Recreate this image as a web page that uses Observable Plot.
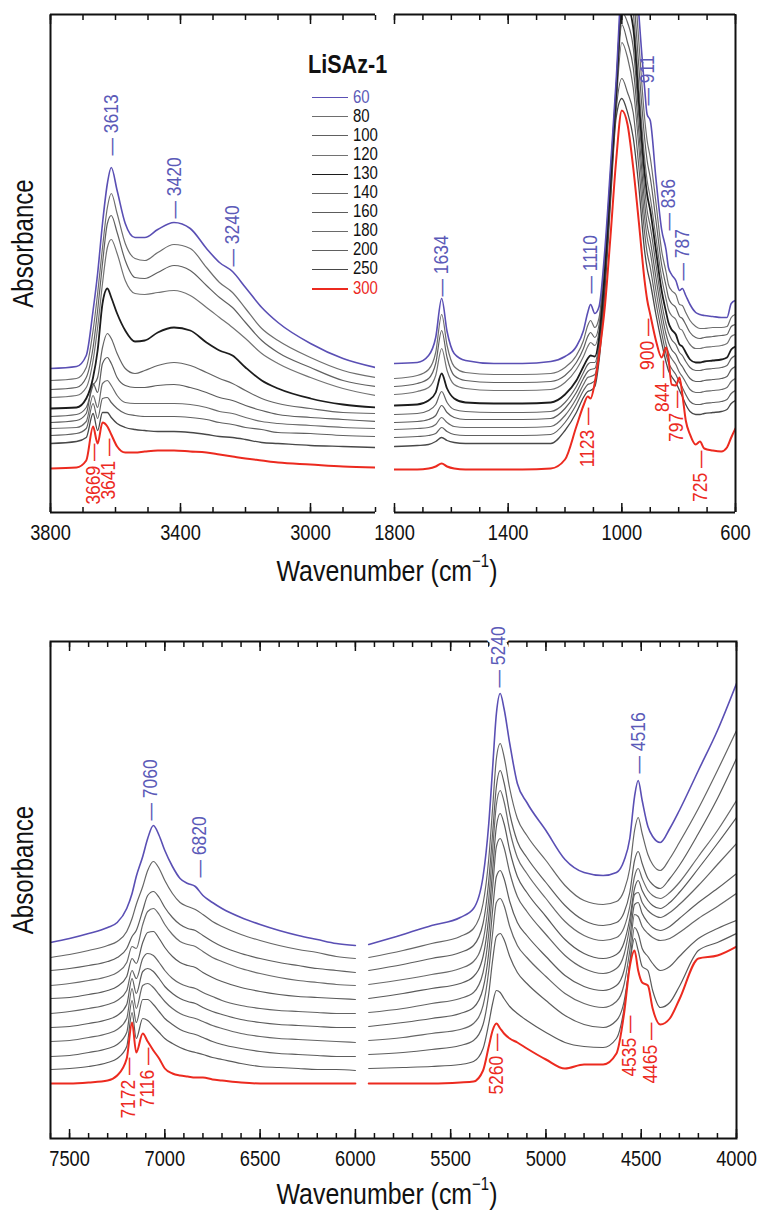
<!DOCTYPE html>
<html>
<head>
<meta charset="utf-8">
<script src="https://cdn.jsdelivr.net/npm/d3@7"></script>
<script src="https://cdn.jsdelivr.net/npm/@observablehq/plot@0.6"></script>
<style>
  html, body { margin: 0; padding: 0; background: #fff; }
  #wrap { position: relative; width: 762px; height: 1213px; overflow: hidden;
          font-family: "Liberation Sans", Arial, sans-serif; color: #111; }
  .pl { position: absolute; }
  .xt { position: absolute; left: 187px; width: 400px; text-align: center; font-size: 30px; line-height: 28px;
        white-space: nowrap; transform: scaleX(0.83); transform-origin: 50% 50%; }
  .xt sup { font-size: 0.6em; vertical-align: baseline; position: relative; top: -0.8em; }
  .lg-title { position: absolute; left: 308px; top: 52px; font-size: 26px; line-height: 25px; font-weight: bold;
              transform: scaleX(0.83); transform-origin: 0 50%; white-space: nowrap; }
  .lg-row { position: absolute; left: 312px; height: 19px; line-height: 19px; font-size: 18px; white-space: nowrap; }
  .lg-row .sw { display: inline-block; width: 36px; height: 0; vertical-align: middle; margin-right: 5px; }
  .lg-row .lb { display: inline-block; transform: scaleX(0.83); transform-origin: 0 50%; }
</style>
</head>
<body>
<div id="wrap"></div>
<script>
// ---------------- data ----------------
const temps = [60, 80, 100, 120, 130, 140, 160, 180, 200, 250, 300];

// Mid-IR, left segment (cm-1)
const wnTopLeft = [3800, 3720, 3690, 3669, 3655, 3640, 3625, 3613, 3595, 3570, 3540, 3510, 3470, 3420, 3370, 3320, 3280, 3240, 3200, 3150, 3100, 3000, 2900, 2800];
const absTopLeft = [
  [144, 146, 157, 202, 239, 289, 329, 345, 322, 289, 275, 275, 283, 290, 284, 264, 250, 241, 225, 205, 190, 169, 154, 145],
  [132, 134, 145, 182, 219, 265, 305, 319, 299, 269, 254, 252, 260, 268, 264, 245, 230, 220, 204, 184, 172, 155, 142, 135],
  [123, 125, 135, 165, 202, 249, 289, 297, 280, 252, 235, 234, 240, 247, 242, 227, 215, 205, 190, 172, 160, 145, 132, 126],
  [115, 117, 125, 152, 185, 229, 265, 273, 259, 232, 219, 218, 220, 222, 217, 205, 195, 185, 174, 159, 149, 135, 124, 117],
  [104, 105, 114, 135, 162, 209, 224, 215, 199, 182, 171, 172, 180, 185, 182, 170, 162, 157, 145, 132, 124, 114, 108, 105],
  [96, 98, 105, 127, 135, 165, 179, 174, 159, 144, 139, 142, 147, 150, 147, 140, 134, 129, 122, 114, 109, 104, 100, 99],
  [90, 92, 99, 129, 120, 149, 155, 149, 135, 127, 125, 125, 127, 128, 125, 120, 115, 112, 107, 102, 98, 95, 93, 91],
  [84, 85, 91, 117, 105, 129, 132, 127, 117, 110, 109, 109, 109, 109, 108, 105, 101, 99, 95, 91, 89, 87, 85, 84],
  [77, 79, 84, 109, 94, 114, 115, 110, 104, 99, 97, 96, 96, 96, 95, 93, 90, 88, 85, 83, 80, 79, 77, 76],
  [69, 71, 75, 99, 82, 100, 100, 95, 89, 85, 83, 82, 81, 81, 80, 78, 76, 75, 73, 70, 69, 67, 66, 65],
  [44, 45, 52, 86, 69, 90, 86, 78, 66, 60, 60, 61, 62, 62, 61, 60, 58, 56, 54, 52, 50, 48, 46, 45]
];

// Mid-IR, right segment (cm-1)
const wnTopRight = [1800, 1720, 1680, 1655, 1634, 1615, 1590, 1550, 1450, 1350, 1250, 1200, 1160, 1135, 1120, 1110, 1095, 1080, 1060, 1040, 1020, 1000, 980, 960, 940, 920, 911, 900, 880, 860, 844, 836, 825, 810, 797, 787, 775, 760, 740, 725, 710, 680, 650, 630, 615, 600];
const absTopRight = [
  [149, 150, 157, 175, 214, 181, 159, 152, 149, 149, 151, 156, 166, 182, 200, 208, 199, 206, 262, 345, 432, 540, 600, 585, 498, 425, 398, 392, 334, 283, 262, 245, 238, 232, 222, 224, 217, 208, 200, 198, 197, 196, 195, 195, 209, 212],
  [134, 137, 143, 160, 198, 167, 146, 140, 138, 138, 139, 145, 157, 172, 187, 192, 185, 195, 255, 340, 428, 525, 570, 545, 470, 395, 372, 355, 310, 262, 240, 228, 222, 218, 208, 207, 200, 192, 186, 184, 184, 185, 185, 186, 195, 198],
  [126, 129, 134, 149, 182, 155, 137, 132, 130, 130, 131, 137, 150, 164, 176, 180, 175, 188, 250, 336, 424, 515, 545, 520, 445, 375, 352, 335, 292, 248, 226, 215, 209, 205, 196, 194, 188, 180, 175, 174, 175, 176, 177, 178, 186, 188],
  [118, 121, 125, 137, 164, 142, 128, 124, 122, 122, 123, 130, 143, 156, 166, 170, 167, 182, 246, 333, 421, 510, 525, 500, 425, 355, 332, 315, 275, 235, 213, 203, 197, 193, 184, 182, 175, 168, 164, 164, 165, 166, 167, 169, 176, 178],
  [107, 108, 112, 120, 139, 124, 114, 110, 109, 109, 110, 118, 132, 146, 154, 157, 156, 175, 240, 330, 418, 505, 505, 485, 410, 340, 318, 302, 262, 222, 200, 190, 183, 178, 168, 166, 160, 153, 150, 150, 151, 152, 153, 155, 163, 166],
  [98, 99, 102, 108, 121, 110, 103, 101, 100, 100, 101, 110, 126, 140, 148, 150, 150, 170, 236, 327, 415, 500, 490, 465, 395, 325, 302, 286, 248, 210, 188, 180, 173, 168, 160, 157, 151, 145, 142, 142, 143, 144, 145, 147, 154, 157],
  [90, 91, 93, 97, 107, 100, 95, 93, 93, 93, 94, 104, 120, 134, 141, 143, 144, 166, 232, 324, 412, 488, 470, 445, 380, 310, 288, 272, 235, 200, 178, 170, 163, 158, 150, 146, 140, 134, 131, 131, 132, 133, 134, 136, 143, 146],
  [83, 84, 85, 88, 95, 90, 86, 85, 85, 85, 86, 97, 114, 128, 135, 136, 138, 161, 228, 320, 408, 470, 455, 425, 365, 295, 275, 260, 222, 190, 168, 160, 154, 148, 140, 136, 130, 123, 120, 120, 121, 122, 123, 125, 131, 134],
  [75, 76, 77, 79, 85, 81, 78, 77, 77, 77, 78, 90, 108, 122, 128, 129, 132, 156, 224, 316, 402, 434, 420, 400, 345, 280, 260, 245, 210, 180, 158, 150, 144, 138, 130, 125, 118, 111, 108, 108, 109, 110, 111, 113, 119, 122],
  [66, 67, 68, 71, 75, 72, 70, 69, 69, 69, 69, 82, 100, 115, 121, 122, 126, 152, 219, 310, 395, 414, 400, 375, 325, 262, 244, 230, 198, 170, 150, 142, 136, 130, 122, 116, 108, 101, 98, 98, 99, 100, 101, 103, 109, 112],
  [43, 43, 44, 46, 49, 46, 44, 43, 43, 43, 44, 53, 86, 107, 116, 114, 130, 158, 205, 276, 352, 402, 388, 345, 290, 232, 213, 198, 172, 155, 165, 155, 128, 127, 135, 118, 92, 78, 68, 71, 64, 62, 61, 65, 75, 84]
];

// Near-IR, part before the gap (cm-1)
const wnNirLeft = [7600, 7500, 7400, 7300, 7250, 7200, 7172, 7150, 7116, 7090, 7060, 7030, 7000, 6960, 6920, 6880, 6840, 6800, 6750, 6700, 6600, 6500, 6400, 6300, 6200, 6100, 6000];
const absNirLeft = [
  [196, 200, 205, 211, 216, 230, 245, 262, 282, 300, 313, 303, 288, 272, 260, 255, 252, 243, 236, 230, 221, 214, 208, 203, 199, 195, 193],
  [181, 184, 188, 193, 197, 207, 220, 234, 252, 268, 277, 270, 258, 245, 236, 232, 229, 224, 217, 212, 204, 198, 193, 189, 186, 182, 180],
  [168, 170, 173, 177, 181, 190, 202, 208, 228, 243, 247, 241, 231, 221, 214, 210, 208, 203, 197, 192, 185, 180, 176, 173, 170, 168, 166],
  [153, 155, 158, 162, 166, 176, 192, 190, 214, 227, 230, 224, 214, 204, 197, 194, 192, 187, 181, 177, 170, 165, 161, 158, 156, 154, 153],
  [140, 141, 144, 148, 152, 162, 180, 175, 196, 206, 207, 200, 191, 182, 176, 173, 171, 166, 161, 157, 151, 147, 144, 142, 141, 140, 139],
  [125, 127, 130, 134, 138, 148, 168, 160, 180, 185, 183, 176, 168, 160, 155, 152, 150, 146, 142, 138, 133, 130, 128, 127, 126, 125, 125],
  [111, 112, 115, 119, 123, 134, 160, 145, 167, 170, 167, 160, 152, 145, 140, 137, 135, 131, 127, 124, 119, 116, 114, 113, 112, 111, 111],
  [97, 98, 101, 105, 109, 120, 150, 130, 153, 155, 151, 144, 137, 130, 125, 122, 120, 117, 113, 110, 105, 102, 100, 99, 98, 97, 96],
  [82, 83, 86, 90, 94, 106, 138, 116, 139, 139, 134, 127, 120, 114, 109, 106, 104, 101, 97, 94, 90, 87, 85, 84, 83, 82, 82],
  [69, 70, 72, 76, 80, 92, 126, 100, 120, 118, 112, 106, 100, 95, 91, 88, 86, 84, 81, 79, 75, 72, 71, 70, 69, 69, 68],
  [55, 55, 56, 58, 63, 80, 116, 86, 105, 97, 88, 80, 70, 65, 63, 62, 61, 61, 59, 58, 56, 55, 55, 55, 55, 55, 55]
];

// Near-IR, part after the gap (cm-1)
const wnNirRight = [5930, 5750, 5600, 5450, 5380, 5330, 5300, 5280, 5260, 5240, 5220, 5190, 5150, 5100, 5000, 4900, 4800, 4700, 4630, 4590, 4560, 4535, 4516, 4495, 4465, 4440, 4400, 4350, 4300, 4200, 4100, 4000];
const absNirRight = [
  [194, 204, 213, 221, 230, 262, 315, 370, 425, 445, 430, 395, 355, 336, 308, 279, 266, 263, 266, 278, 300, 342, 358, 338, 312, 302, 296, 310, 328, 368, 408, 455],
  [181, 188, 195, 202, 210, 235, 280, 330, 380, 395, 382, 350, 320, 303, 278, 253, 238, 234, 237, 248, 270, 308, 321, 305, 284, 274, 268, 280, 296, 330, 368, 408],
  [168, 174, 180, 186, 193, 215, 258, 305, 352, 368, 356, 325, 297, 281, 256, 233, 218, 213, 216, 226, 246, 278, 287, 275, 260, 254, 250, 260, 273, 305, 340, 380],
  [154, 159, 164, 170, 177, 198, 240, 288, 334, 348, 337, 308, 281, 265, 240, 217, 203, 198, 201, 211, 232, 262, 270, 260, 248, 243, 240, 246, 256, 282, 308, 338],
  [140, 145, 150, 155, 162, 182, 222, 268, 312, 325, 315, 288, 262, 246, 222, 199, 185, 180, 184, 196, 220, 250, 258, 248, 238, 233, 230, 236, 246, 270, 295, 321],
  [126, 130, 135, 140, 146, 166, 205, 250, 292, 300, 291, 266, 242, 227, 204, 183, 170, 165, 170, 184, 212, 244, 246, 236, 228, 224, 221, 226, 234, 253, 274, 295],
  [112, 116, 120, 125, 131, 150, 186, 228, 262, 268, 260, 237, 216, 203, 182, 163, 152, 148, 153, 168, 200, 234, 236, 225, 216, 211, 208, 212, 220, 236, 250, 265],
  [98, 101, 105, 109, 115, 133, 168, 205, 236, 240, 233, 212, 193, 181, 162, 145, 135, 131, 137, 154, 188, 224, 222, 212, 205, 201, 198, 200, 206, 220, 232, 245],
  [84, 86, 89, 93, 98, 114, 145, 178, 202, 205, 199, 182, 166, 155, 138, 123, 114, 111, 118, 137, 175, 211, 205, 190, 182, 175, 168, 172, 182, 200, 210, 218],
  [70, 71, 72, 74, 77, 90, 115, 135, 148, 146, 140, 132, 125, 118, 106, 96, 92, 91, 100, 130, 175, 200, 188, 172, 168, 148, 131, 136, 152, 188, 196, 205],
  [55, 55, 55, 56, 57, 68, 92, 108, 115, 110, 105, 100, 96, 90, 79, 70, 74, 74, 85, 125, 172, 188, 168, 156, 153, 130, 114, 120, 139, 180, 183, 192]
];

// band labels: wavenumber, absorbance level where the leader starts, optional label x (cm-1) when nudged aside
const bandsTopLeftBlue = [{wn: 3613, at: 357}, {wn: 3420, at: 294}, {wn: 3240, at: 246}];
const bandsTopLeftRed = [{wn: 3669, at: 69}, {wn: 3641, at: 74, xAt: 3622}];
const bandsTopRightBlue = [{wn: 1634, at: 216}, {wn: 1110, at: 219}, {wn: 911, at: 407}, {wn: 836, at: 282}, {wn: 787, at: 232}];
const bandsTopRightRed = [{wn: 1123, at: 105}, {wn: 900, at: 194, xAt: 910}, {wn: 844, at: 152, xAt: 857}, {wn: 797, at: 122, xAt: 810}, {wn: 725, at: 62}];
const bandsNirBlue = [{wn: 7060, at: 318, xAt: 7075}, {wn: 6820, at: 261}, {wn: 5240, at: 451, xAt: 5250}, {wn: 4516, at: 365}];
const bandsNirRed = [{wn: 7172, at: 81, xAt: 7190}, {wn: 7116, at: 91, xAt: 7090}, {wn: 5260, at: 105}, {wn: 4535, at: 123, xAt: 4565}, {wn: 4465, at: 116, xAt: 4452}];

// axis tick labels and texts
const ticksTopLeft = [3800, 3400, 3000];
const ticksTopRight = [1800, 1400, 1000, 600];
const ticksNir = [7500, 7000, 6500, 6000, 5500, 5000, 4500, 4000];
const legendTitle = "LiSAz-1";
const xTitle = "Wavenumber (cm<sup>−1</sup>)";
const yTitle = "Absorbance";

// ---------------- styles ----------------
const FONT = '"Liberation Sans", Arial, sans-serif';
const BLUE_TXT = "#5b5ab8", RED = "#ec2a1f";
const seriesColor = ["#5a4fb4", "#6e6e6e", "#606060", "#727272", "#1c1c1c", "#646464", "#5c5c5c", "#6a6a6a", "#606060", "#484848", "#ec2a1f"];
const nirColor = ["#5a4fb4", "#666", "#5e5e5e", "#6a6a6a", "#5a5a5a", "#646464", "#5c5c5c", "#666", "#5e5e5e", "#5a5a5a", "#ec2a1f"];
const seriesWidth = [1.6, 1.2, 1.2, 1.2, 1.8, 1.2, 1.2, 1.2, 1.2, 1.3, 2.0];
const nirWidth = [1.6, 1.2, 1.2, 1.2, 1.2, 1.2, 1.2, 1.2, 1.2, 1.2, 2.0];
const drawOrder = [1, 2, 3, 5, 6, 7, 8, 9, 4, 10, 0];

function tidy(wn, rows, part) {
  const out = [];
  rows.forEach((vals, i) => vals.forEach((a, j) => out.push({T: temps[i], wn: wn[j], A: a, part})));
  return out;
}
function lines(data, colors, widths) {
  return drawOrder.map(i => Plot.line(data, {
    filter: d => d.T === temps[i], x: "wn", y: "A", z: "part",
    stroke: colors[i], strokeWidth: widths[i], curve: "monotone-x", clip: true
  }));
}
function xAxes(major, minor) {
  return [
    Plot.axisX(minor, {anchor: "bottom", tickSize: -5, strokeWidth: 1.5, fill: "none", label: null}),
    Plot.axisX(major, {anchor: "bottom", tickSize: -9, strokeWidth: 1.5, fill: "none", label: null}),
    Plot.axisX(minor, {anchor: "top", tickSize: -5, strokeWidth: 1.5, fill: "none", label: null}),
    Plot.axisX(major, {anchor: "top", tickSize: -9, strokeWidth: 1.5, fill: "none", label: null}),
    Plot.axisX(major, {anchor: "bottom", tickSize: 0, tickPadding: 12, tickFormat: d => String(d), label: null, fontSize: 22})
  ];
}
function bandLabels(blue, red, extra = {}) {
  return [
    Plot.text(blue, {x: d => d.xAt ?? d.wn, y: "at", text: d => "— " + d.wn, rotate: -90, textAnchor: "start", lineAnchor: "middle",
      fill: BLUE_TXT, fontSize: 21, ...extra}),
    Plot.text(red, {x: d => d.xAt ?? d.wn, y: "at", text: d => d.wn + " —", rotate: -90, textAnchor: "end", lineAnchor: "middle",
      fill: RED, fontSize: 21})
  ];
}
const baseStyle = {fontFamily: FONT, fontSize: "22px", background: "transparent", overflow: "visible", color: "#111"};

const wrap = document.getElementById("wrap");
function place(node, left, top) {
  node.classList.add("pl");
  node.style.left = left + "px";
  node.style.top = top + "px";
  wrap.appendChild(node);
}

// ---------- top panel, left segment ----------
place(Plot.plot({
  width: 385, height: 590, marginLeft: 50, marginRight: 10, marginTop: 14, marginBottom: 78,
  style: baseStyle,
  x: {domain: [3800, 2800]},
  y: {domain: [0, 498], axis: null},
  marks: [
    ...lines(tidy(wnTopLeft, absTopLeft, "a"), seriesColor, seriesWidth),
    Plot.ruleY([0, 498], {stroke: "#111", strokeWidth: 2}),
    Plot.ruleX([3800], {stroke: "#111", strokeWidth: 2}),
    ...xAxes(ticksTopLeft, d3.range(3800, 2799, -100)),
    ...bandLabels(bandsTopLeftBlue, bandsTopLeftRed),
    Plot.text([yTitle], {text: d => d, frameAnchor: "left", dx: -27, dy: -20, rotate: -90, fontSize: 29, textAnchor: "middle", lineAnchor: "middle"})
  ]
}), 0, 0);

// ---------- top panel, right segment ----------
place(Plot.plot({
  width: 382, height: 590, marginLeft: 14, marginRight: 27, marginTop: 14, marginBottom: 78,
  style: baseStyle,
  x: {domain: [1800, 600]},
  y: {domain: [0, 498], axis: null},
  marks: [
    ...lines(tidy(wnTopRight, absTopRight, "a"), seriesColor, seriesWidth),
    Plot.ruleY([0, 498], {stroke: "#111", strokeWidth: 2}),
    Plot.ruleX([600], {stroke: "#111", strokeWidth: 2}),
    ...xAxes(ticksTopRight, d3.range(1800, 599, -100)),
    ...bandLabels(bandsTopRightBlue, bandsTopRightRed)
  ]
}), 380, 0);

// ---------- bottom panel (near-IR) ----------
place(Plot.plot({
  width: 762, height: 623, marginLeft: 50, marginRight: 26, marginTop: 51, marginBottom: 75,
  style: baseStyle,
  x: {domain: [7600, 4000]},
  y: {domain: [0, 497], axis: null},
  marks: [
    ...lines([...tidy(wnNirLeft, absNirLeft, "a"), ...tidy(wnNirRight, absNirRight, "b")], nirColor, nirWidth),
    Plot.frame({stroke: "#111", strokeWidth: 2}),
    ...xAxes(ticksNir, d3.range(7600, 3999, -100)),
    ...bandLabels(bandsNirBlue, bandsNirRed, {stroke: "white", strokeWidth: 7}),
    Plot.text([yTitle], {text: d => d, frameAnchor: "left", dx: -27, dy: -20, rotate: -90, fontSize: 29, textAnchor: "middle", lineAnchor: "middle"})
  ]
}), 0, 590);

// condensed lettering, as in the original figure
wrap.querySelectorAll("svg text").forEach(el => {
  const L = el.getComputedTextLength();
  if (L > 0) {
    el.setAttribute("textLength", (L * 0.83).toFixed(1));
    el.setAttribute("lengthAdjust", "spacingAndGlyphs");
  }
});

// ---------- axis titles ----------
for (const top of [557, 1180]) {
  const t = document.createElement("div");
  t.className = "xt";
  t.style.top = top + "px";
  t.innerHTML = xTitle;
  wrap.appendChild(t);
}

// ---------- legend ----------
const lt = document.createElement("div");
lt.className = "lg-title";
lt.textContent = legendTitle;
wrap.appendChild(lt);
temps.forEach((t, i) => {
  const row = document.createElement("div");
  row.className = "lg-row";
  row.style.top = (97 + i * 19.1 - 9.5) + "px";
  const sw = document.createElement("span");
  sw.className = "sw";
  sw.style.borderTop = `${Math.max(1.3, seriesWidth[i])}px solid ${seriesColor[i]}`;
  const lab = document.createElement("span");
  lab.className = "lb";
  lab.textContent = t;
  lab.style.color = i === 0 ? BLUE_TXT : i === temps.length - 1 ? RED : "#111";
  row.appendChild(sw);
  row.appendChild(lab);
  wrap.appendChild(row);
});
</script>
</body>
</html>
